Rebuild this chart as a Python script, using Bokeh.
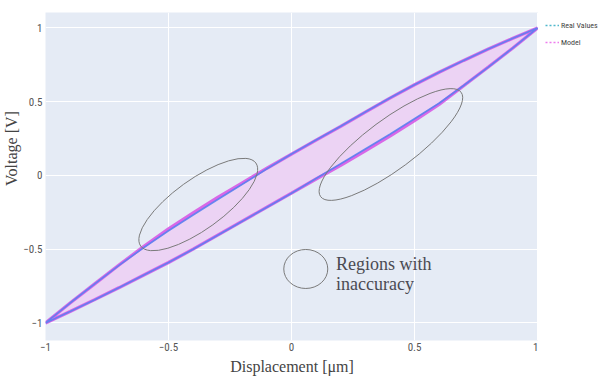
import math
from bokeh.plotting import figure
from bokeh.layouts import row
from bokeh.models import Range1d, FixedTicker, Label, Legend, LegendItem
from bokeh.embed import file_html
from bokeh.resources import INLINE

# ---------------- data ----------------
displacement = [-1.0, -0.9, -0.8, -0.7, -0.6, -0.5, -0.4, -0.3, -0.2, -0.1, 0.0,
                0.1, 0.2, 0.3, 0.4, 0.5, 0.6, 0.7, 0.8, 0.9, 1.0]

real_upper = [-1.0, -0.865, -0.735, -0.608, -0.488, -0.375, -0.268, -0.163, -0.060, 0.045, 0.145,
              0.240, 0.333, 0.430, 0.525, 0.615, 0.700, 0.780, 0.857, 0.930, 1.0]
real_lower = [-1.0, -0.922, -0.842, -0.760, -0.675, -0.590, -0.500, -0.405, -0.310, -0.215, -0.120,
              -0.020, 0.080, 0.180, 0.280, 0.385, 0.490, 0.610, 0.735, 0.865, 1.0]

model_upper = [-1.0, -0.865, -0.735, -0.606, -0.480, -0.362, -0.254, -0.149, -0.050, 0.049, 0.145,
               0.240, 0.333, 0.430, 0.525, 0.615, 0.700, 0.780, 0.857, 0.930, 1.0]
model_lower = [-1.0, -0.922, -0.842, -0.760, -0.675, -0.590, -0.500, -0.405, -0.310, -0.215, -0.120,
               -0.024, 0.068, 0.166, 0.266, 0.372, 0.482, 0.608, 0.735, 0.865, 1.0]

tick_values = [-1, -0.5, 0, 0.5, 1]
tick_labels = ["\u22121", "\u22120.5", "0", "0.5", "1"]

# annotation shapes: "regions with inaccuracy"
region_x = [-0.379, 0.404, 0.058]
region_y = [-0.197, 0.210, -0.634]
region_w_px = [142, 175, 44]
region_h_px = [50, 50, 39]
region_angle_deg = [35.8, 36.6, 0.0]

series_names = ["Real Values", "Model"]

# ---------------- build loops ----------------
loop_x = displacement + displacement[::-1]
real_loop_y = real_upper + real_lower[::-1]
model_loop_y = model_upper + model_lower[::-1]

NARROW = "'Liberation Sans Narrow', 'Roboto Condensed', 'DejaVu Sans Condensed', sans-serif"
SERIF = "'Liberation Serif', serif"

p = figure(width=538, height=382, output_backend="svg", toolbar_location=None,
           x_range=Range1d(-1.0, 1.004), y_range=Range1d(-1.119, 1.105),
           min_border_left=44, min_border_right=0, min_border_top=12, min_border_bottom=42,
           background_fill_color="#e5ebf5", border_fill_color="white",
           outline_line_color=None)

for ax in (p.xaxis, p.yaxis):
    ax.ticker = FixedTicker(ticks=tick_values)
    ax.major_label_overrides = {t: l for t, l in zip(tick_values, tick_labels)}
    ax.axis_line_color = None
    ax.major_tick_line_color = None
    ax.minor_tick_line_color = None
    ax.major_tick_out = 0
    ax.major_tick_in = 0
    ax.major_label_text_font = NARROW
    ax.major_label_text_font_size = "11px"
    ax.major_label_text_color = "#555555"
    ax.axis_label_text_font = SERIF
    ax.axis_label_text_font_size = "16px"
    ax.axis_label_text_font_style = "normal"
    ax.axis_label_text_color = "#444444"
p.xaxis.major_label_standoff = 2
p.yaxis.major_label_standoff = 3
p.xaxis.axis_label = "Displacement [\u03bcm]"
p.xaxis.axis_label_standoff = 4
# leading no-break spaces shift the rotated title towards the top, as in the reference
p.yaxis.axis_label = "\u00a0" * 14 + "Voltage [V]"
p.yaxis.axis_label_standoff = 0

p.xgrid.grid_line_color = "white"
p.ygrid.grid_line_color = "white"
p.xgrid.grid_line_width = 1
p.ygrid.grid_line_width = 1

# fill between model branches
p.patch(loop_x, model_loop_y, fill_color="#ecd3f4", fill_alpha=1.0, line_color=None)
# model line (magenta) under real values (blue)
p.line(loop_x, model_loop_y, line_color="#d65ae6", line_width=3.2, line_alpha=0.9)
p.line(loop_x, real_loop_y, line_color="#5a80f0", line_width=1.7, line_alpha=0.9)

# ellipses marking the inaccurate regions
p.ellipse(x=region_x, y=region_y, width=region_w_px, height=region_h_px,
          angle=[math.radians(a) for a in region_angle_deg],
          width_units="screen", height_units="screen",
          fill_color=None, line_color="#7a7a7a", line_width=1)

p.add_layout(Label(x=0.181, y=-0.597, text="Regions with", text_font=SERIF,
                   text_font_size="18px", text_color="#4a4a52", text_baseline="alphabetic"))
p.add_layout(Label(x=0.181, y=-0.735, text="inaccuracy", text_font=SERIF,
                   text_font_size="18px", text_color="#4a4a52", text_baseline="alphabetic"))

# ---------------- legend, in a narrow strip to the right of the plot ----------------
lf = figure(width=62, height=382, output_backend="svg", toolbar_location=None,
            x_range=Range1d(0, 1), y_range=Range1d(0, 1),
            min_border_left=0, min_border_right=0, min_border_top=6, min_border_bottom=0,
            background_fill_color="white", border_fill_color="white",
            outline_line_color=None)
lf.axis.visible = False
lf.grid.visible = False
# legend-only renderers: their points lie outside the strip's visible range
leg_real = lf.line([-10, -9], [-10, -9], line_color="#4fb8cc", line_width=1.5, line_dash="2 2")
leg_model = lf.line([-10, -9], [-10, -9], line_color="#ee7cee", line_width=1.5, line_dash="2 2")
legend = Legend(items=[LegendItem(label=series_names[0], renderers=[leg_real]),
                       LegendItem(label=series_names[1], renderers=[leg_model])],
                location="top_left", margin=6, padding=1, spacing=5,
                glyph_width=14, glyph_height=12, label_height=12, label_standoff=2,
                label_text_font=NARROW, label_text_font_size="8px",
                label_text_color="#444444",
                background_fill_alpha=0, border_line_alpha=0)
lf.add_layout(legend)

layout = row(p, lf, spacing=0)
open("out.html", "w").write(file_html(layout, INLINE))
